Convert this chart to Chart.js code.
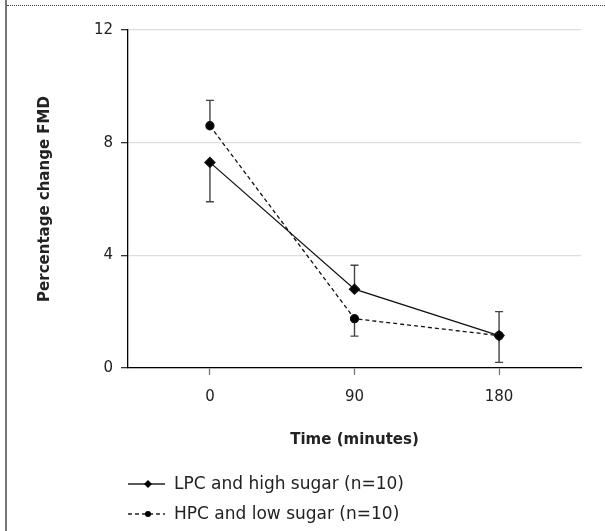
<!DOCTYPE html>
<html>
<head>
<meta charset="utf-8">
<script src="https://cdn.jsdelivr.net/npm/chart.js@4.4.1/dist/chart.umd.min.js"></script>
<style>
  body { margin:0; background:#fff; }
  #wrap { position:relative; width:605px; height:531px; }
  #leftline { position:absolute; left:5px; top:0; width:2px; height:531px; background:#777; }
  #topline { position:absolute; left:7px; top:5px; width:598px; border-top:1px dotted #444; }
  canvas { position:absolute; left:0; top:0; }
</style>
</head>
<body>
<div id="wrap">
  <canvas id="fmdChart" width="605" height="531"></canvas>
  <div id="leftline"></div>
  <div id="topline"></div>
</div>
<script>
  // time points (minutes)
  const times = [0, 90, 180]
  const yTicks = [0, 4, 8, 12]

  // LPC and high sugar
  const lpcMean = [7.3, 2.8, 1.15]
  const lpcErrLow = [5.9, null, null]
  const lpcErrHigh = [null, 3.65, 2.0]

  // HPC and low sugar
  const hpcMean = [8.6, 1.75, 1.15]
  const hpcErrLow = [null, 1.13, 0.2]
  const hpcErrHigh = [9.5, null, null]

  const labels = ['LPC and high sugar (n=10)', 'HPC and low sugar (n=10)']
  const fontFam = "'DejaVu Sans', sans-serif"

  const toPoints = (arr) => times.map((t, i) => ({x: t, y: arr[i]}))

  // draw error bars from the y scale
  const errorBars = {
    id: 'errorBars',
    beforeDatasetsDraw(chart){
      const ctx = chart.ctx
      const xs = chart.scales.x, ys = chart.scales.y
      chart.data.datasets.forEach((ds) => {
        times.forEach((t, i) => {
          const px = xs.getPixelForValue(t)
          const py = ys.getPixelForValue(ds.mean[i])
          ctx.save()
          ctx.strokeStyle = '#444'
          ctx.lineWidth = 1.4
          ;[ds.errLow[i], ds.errHigh[i]].forEach((e) => {
            if(e == null) return
            const pe = ys.getPixelForValue(e)
            ctx.beginPath()
            ctx.moveTo(px, py); ctx.lineTo(px, pe)
            ctx.moveTo(px - 4, pe); ctx.lineTo(px + 4, pe)
            ctx.stroke()
          })
          ctx.restore()
        })
      })
    }
  }

  // legend drawn under the x title: line sample + marker + text
  const lineLegend = {
    id: 'lineLegend',
    afterDraw(chart){
      const ctx = chart.ctx
      const x0 = 128, rows = [484, 514]
      chart.data.datasets.forEach((ds, i) => {
        const y = rows[i]
        ctx.save()
        ctx.strokeStyle = '#222'
        ctx.lineWidth = 1.3
        ctx.setLineDash(ds.borderDash || [])
        ctx.beginPath(); ctx.moveTo(x0, y); ctx.lineTo(x0 + 37, y); ctx.stroke()
        ctx.setLineDash([])
        ctx.fillStyle = '#000'
        Chart.helpers.drawPoint(ctx, {pointStyle: ds.pointStyle, radius: ds.pointRadius - 1, rotation: 0}, x0 + 20, y)
        ctx.font = '17px ' + fontFam
        ctx.textBaseline = 'middle'
        ctx.fillStyle = '#222'
        ctx.fillText(ds.label, x0 + 46, y + 1)
        ctx.restore()
      })
    }
  }

  new Chart(document.getElementById('fmdChart'), {
    type: 'line',
    data: {
      datasets: [
        {
          label: labels[0],
          data: toPoints(lpcMean),
          mean: lpcMean, errLow: lpcErrLow, errHigh: lpcErrHigh,
          borderColor: '#111', backgroundColor: '#000', borderWidth: 1.3,
          pointStyle: 'rectRot', pointRadius: 5, pointHoverRadius: 5,
        },
        {
          label: labels[1],
          data: toPoints(hpcMean),
          mean: hpcMean, errLow: hpcErrLow, errHigh: hpcErrHigh,
          borderColor: '#111', backgroundColor: '#000', borderWidth: 1.3,
          borderDash: [4, 3],
          pointStyle: 'circle', pointRadius: 4, pointHoverRadius: 4,
        },
      ],
    },
    options: {
      responsive: false,
      animation: false,
      layout: { padding: { left: 36, right: 24, top: 30, bottom: 82 } },
      plugins: { legend: { display: false }, tooltip: { enabled: false } },
      scales: {
        x: {
          type: 'linear', min: -51, max: 231,
          afterBuildTicks: (s) => { s.ticks = times.map(v => ({value: v})) },
          afterFit: (s) => { s.height = 81 },
          border: { color: '#000', width: 1.3 },
          grid: { drawOnChartArea: false, tickLength: 7, tickColor: '#777', tickWidth: 1.3 },
          ticks: { color: '#222', font: { family: fontFam, size: 15 }, padding: 13 },
          title: { display: true, text: 'Time (minutes)', color: '#222',
                   font: { family: fontFam, size: 15, weight: 'bold' }, padding: 0 },
        },
        y: {
          min: 0, max: 12,
          afterBuildTicks: (s) => { s.ticks = yTicks.map(v => ({value: v})) },
          afterFit: (s) => { s.width = 92 },
          border: { color: '#000', width: 1.3 },
          grid: { color: '#ddd', lineWidth: 1.3, tickLength: 7, tickColor: '#333' },
          ticks: { color: '#222', font: { family: fontFam, size: 15 }, padding: 8 },
          title: { display: true, text: 'Percentage change FMD', color: '#222',
                   font: { family: fontFam, size: 15, weight: 'bold' }, padding: 0 },
        },
      },
    },
    plugins: [errorBars, lineLegend],
  })
</script>
</body>
</html>
